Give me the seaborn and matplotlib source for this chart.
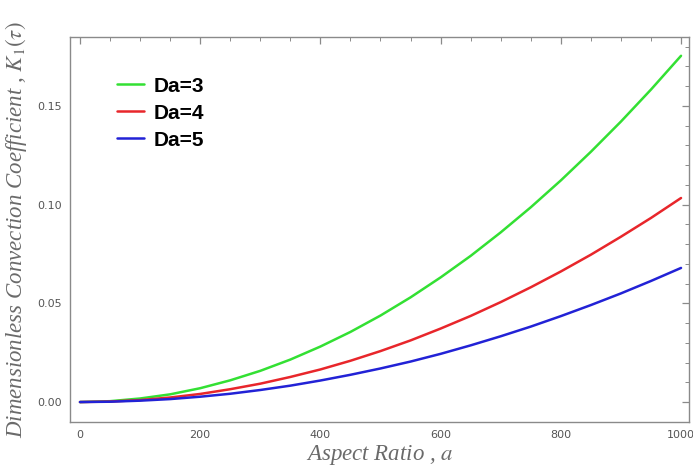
import numpy as np
import pandas as pd
import matplotlib
matplotlib.use("Agg")
import matplotlib.pyplot as plt
import seaborn as sns
from matplotlib.ticker import MultipleLocator, FormatStrFormatter

# Aspect ratio samples and convection coefficient K1(tau) for each Darcy number
aspect_ratio = [0, 50, 100, 150, 200, 250, 300, 350, 400, 450, 500,
                550, 600, 650, 700, 750, 800, 850, 900, 950, 1000]
k_da3 = [0.0, 0.00044, 0.0018, 0.0039, 0.0070, 0.0110, 0.0158, 0.0215, 0.0281, 0.0355, 0.0438,
         0.0530, 0.0631, 0.0740, 0.0859, 0.0986, 0.1122, 0.1267, 0.1420, 0.1582, 0.1753]
k_da4 = [0.0, 0.00026, 0.0010, 0.0023, 0.0041, 0.0065, 0.0093, 0.0127, 0.0165, 0.0209, 0.0258,
         0.0312, 0.0372, 0.0436, 0.0506, 0.0581, 0.0661, 0.0746, 0.0837, 0.0932, 0.1033]
k_da5 = [0.0, 0.00017, 0.0007, 0.0015, 0.0027, 0.0042, 0.0061, 0.0083, 0.0109, 0.0138, 0.0170,
         0.0205, 0.0244, 0.0287, 0.0333, 0.0382, 0.0435, 0.0491, 0.0550, 0.0613, 0.0679]
series_names = ["Da=3", "Da=4", "Da=5"]
series_colors = ["#33e033", "#e8262b", "#2222d6"]

frames = []
for name, vals in zip(series_names, [k_da3, k_da4, k_da5]):
    frames.append(pd.DataFrame({"a": aspect_ratio, "K": vals, "series": name}))
df = pd.concat(frames, ignore_index=True)

sns.set_style("white")
plt.rcParams["mathtext.fontset"] = "stix"
fig = plt.figure(figsize=(6.93, 4.68), dpi=100)
ax = fig.add_axes([0.101, 0.0983, 0.893, 0.823])

sns.lineplot(data=df, x="a", y="K", hue="series", palette=series_colors,
             linewidth=1.8, ax=ax, legend=False)

ax.set_xlim(-16.6, 1013)
ax.set_ylim(-0.0101, 0.1849)

frame_col = "#8a8a8a"
for sp in ax.spines.values():
    sp.set_color(frame_col)
    sp.set_linewidth(1.0)

ax.xaxis.set_major_locator(MultipleLocator(200))
ax.xaxis.set_minor_locator(MultipleLocator(50))
ax.yaxis.set_major_locator(MultipleLocator(0.05))
ax.yaxis.set_minor_locator(MultipleLocator(0.01))
ax.yaxis.set_major_formatter(FormatStrFormatter("%.2f"))
ax.tick_params(which="both", direction="in", top=True, right=True,
               color=frame_col, labelcolor="#555555", labelsize=8)
ax.tick_params(which="major", length=5, width=0.9, pad=6)
ax.tick_params(which="minor", length=3, width=0.7)

label_font = dict(family="Liberation Serif", style="italic", size=16.5, color="#6a6a6a")
ax.set_xlabel(r"Aspect Ratio , $a$", labelpad=2, **label_font)
ax.set_ylabel(r"Dimensionless Convection Coefficient , $K_1(\tau)$", labelpad=6, **label_font)

handles = [plt.Line2D([], [], color=c, lw=1.8) for c in series_colors]
leg = ax.legend(handles, series_names, loc="upper left", bbox_to_anchor=(0.045, 0.945),
                frameon=False, handlelength=1.3, handletextpad=0.5, labelspacing=0.38,
                prop=dict(family="Liberation Sans", weight="bold", size=15))
for t in leg.get_texts():
    t.set_color("black")

fig.savefig("out.png", dpi=100)
